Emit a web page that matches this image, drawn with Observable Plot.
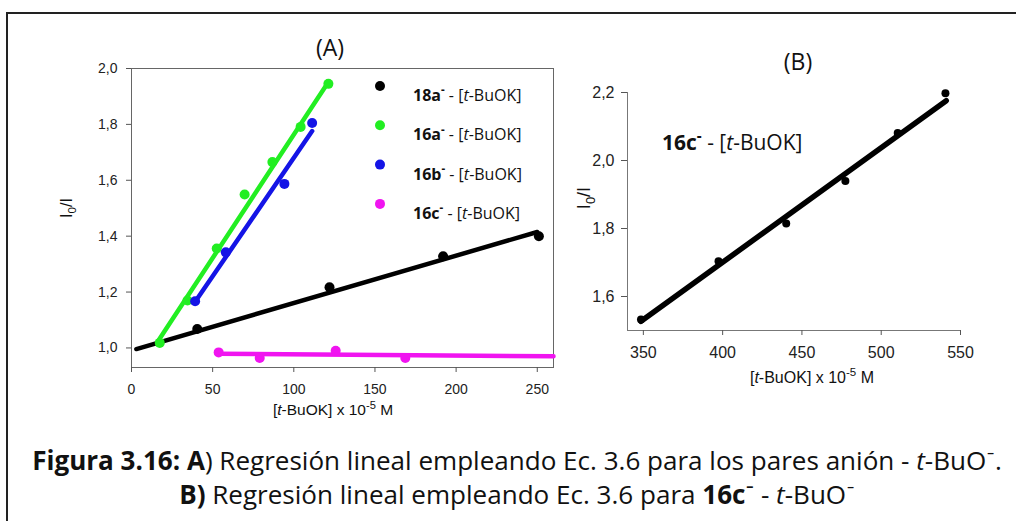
<!DOCTYPE html>
<html><head><meta charset="utf-8">
<script src="https://cdn.jsdelivr.net/npm/d3@7"></script>
<script src="https://cdn.jsdelivr.net/npm/@observablehq/plot@0.6"></script>
<style>
body{margin:0;background:#fff;}
#root{position:relative;width:1016px;height:521px;overflow:hidden;background:#fff;}
#border{position:absolute;left:6px;top:12px;width:1100px;height:600px;border-left:2px solid #222;border-top:2px solid #222;}
.panel{position:absolute;top:0;}
#overlay{position:absolute;left:0;top:0;pointer-events:none;}
</style></head><body><div id="root"><div id="border"></div></div>
<script>
// ---------- data ----------
const seriesA = ["18a", "16a", "16b", "16c"];
const x18a = [40.5, 122, 192, 251];
const y18a = [1.068, 1.217, 1.328, 1.400];
const fit18aX = [3, 250], fit18aY = [0.996, 1.415];
const x16a = [17.4, 34.5, 52.5, 69.7, 86.8, 104.2, 121.3];
const y16a = [1.018, 1.170, 1.356, 1.549, 1.665, 1.791, 1.945];
const fit16aX = [16.3, 121.3], fit16aY = [1.024, 1.952];
const x16b = [39.2, 58.1, 94.2, 111.3];
const y16b = [1.167, 1.342, 1.587, 1.805];
const fit16bX = [39.2, 111.3], fit16bY = [1.165, 1.776];
const x16c = [53.7, 79, 125.8, 168.7];
const y16c = [0.984, 0.964, 0.990, 0.964];
const fit16cX = [53.7, 260], fit16cY = [0.979, 0.970];

const xB = [348.5, 397.4, 440.1, 477.4, 510.4, 540.5];
const yB = [1.532, 1.704, 1.815, 1.940, 2.081, 2.198];
const fitBX = [348.5, 541], fitBY = [1.527, 2.176];

const xTicksA = [0, 50, 100, 150, 200, 250];
const yTicksA = [1.0, 1.2, 1.4, 1.6, 1.8, 2.0];
const xTicksB = [350, 400, 450, 500, 550];
const yTicksB = [1.6, 1.8, 2.0, 2.2];

const colorsA = ["#000000", "#22ee22", "#1414e6", "#f014f0"];

// ---------- build tables ----------
const ptsA = [], fitsA = [];
const raw = {"18a": [x18a, y18a, fit18aX, fit18aY], "16a": [x16a, y16a, fit16aX, fit16aY],
             "16b": [x16b, y16b, fit16bX, fit16bY], "16c": [x16c, y16c, fit16cX, fit16cY]};
for (const s of seriesA) {
  const [xs, ys, fx, fy] = raw[s];
  xs.forEach((x, i) => ptsA.push({s, x, y: ys[i]}));
  fx.forEach((x, i) => fitsA.push({s, x, y: fy[i]}));
}
const ptsB = xB.map((x, i) => ({x, y: yB[i]}));
const fitB = fitBX.map((x, i) => ({x, y: fitBY[i]}));
const fmt = d => d.toFixed(1).replace(".", ",");
const tickFont = "'Liberation Sans', Arial, sans-serif";

const plotA = Plot.plot({
  width: 560, height: 430,
  marginLeft: 131, marginRight: 7, marginTop: 68, marginBottom: 63,
  x: {domain: [0, 260]}, y: {domain: [0.93, 2.0]},
  color: {domain: seriesA, range: colorsA},
  style: {fontFamily: tickFont, fontSize: "14px", color: "#222", background: "transparent", overflow: "visible"},
  marks: [
    Plot.frame({stroke: "#666"}),
    Plot.axisX({ticks: xTicksA, tickSize: 5, tickPadding: 12, label: null, stroke: "#555", fill: "#222"}),
    Plot.axisY({ticks: yTicksA, tickSize: 5, tickPadding: 9, label: null, tickFormat: fmt, stroke: "#555", fill: "#222"}),
    Plot.line(fitsA, {x: "x", y: "y", z: "s", stroke: "s", strokeWidth: 4.5}),
    Plot.dot(ptsA, {x: "x", y: "y", fill: "s", r: 5})
  ]
});
plotA.classList.add("panel"); plotA.style.left = "0px";

const plotB = Plot.plot({
  width: 456, height: 430,
  marginLeft: 67, marginRight: 56, marginTop: 92, marginBottom: 100,
  x: {domain: [340, 550]}, y: {domain: [1.5, 2.2]},
  style: {fontFamily: tickFont, fontSize: "16px", color: "#222", background: "transparent", overflow: "visible"},
  marks: [
    Plot.ruleY([1.5], {stroke: "#777"}),
    Plot.ruleX([340], {stroke: "#777"}),
    Plot.axisX({ticks: xTicksB, tickSize: 5, tickPadding: 11, label: null, stroke: "#555", fill: "#222"}),
    Plot.axisY({ticks: yTicksB, tickSize: 6, tickPadding: 7, label: null, tickFormat: fmt, stroke: "#555", fill: "#222"}),
    Plot.line(fitB, {x: "x", y: "y", stroke: "#000", strokeWidth: 5.5}),
    Plot.dot(ptsB, {x: "x", y: "y", fill: "#000", r: 4})
  ]
});
plotB.classList.add("panel"); plotB.style.left = "560px";

const root = document.getElementById("root");
root.appendChild(plotA);
root.appendChild(plotB);

// ---------- overlay text ----------
const svg = d3.select(root).append("svg").attr("id", "overlay").attr("width", 1016).attr("height", 521);
const cal = "'Open Sans', Lato, sans-serif";

function rich(x, y, segs, {fs, family, anchor = "start", rotate = 0, fill = "#111"}) {
  const g = svg.append("g").attr("transform", `translate(${x},${y}) rotate(${rotate})`);
  const t = g.append("text").attr("font-family", family).attr("font-size", fs + "px")
    .attr("text-anchor", anchor).attr("fill", fill);
  let shift = 0;
  for (const s of segs) {
    const ts = t.append("tspan").text(s.t);
    const target = s.sup ? -0.42 * fs : s.sub ? 0.28 * fs : 0;
    if (target !== shift) { ts.attr("dy", (target - shift) + "px"); shift = target; }
    if (s.b) ts.attr("font-weight", "bold");
    if (s.i) ts.attr("font-style", "italic");
    if (s.sup || s.sub) ts.attr("font-size", (fs * 0.72) + "px");
  }
  return t;
}

const xLabel = [{t: "["}, {t: "t", i: true}, {t: "-BuOK] x 10"}, {t: "-5", sup: true}, {t: " M"}];
const yLabel = [{t: "I"}, {t: "0", sub: true}, {t: "/I"}];

rich(330, 56, [{t: "(A)"}], {fs: 23, family: cal, anchor: "middle"});
rich(798, 70, [{t: "(B)"}], {fs: 23, family: cal, anchor: "middle"});
rich(333, 415, xLabel, {fs: 15.5, family: tickFont, anchor: "middle"});
rich(812, 383, xLabel, {fs: 16, family: tickFont, anchor: "middle"});
rich(72, 208, yLabel, {fs: 16, family: tickFont, anchor: "middle", rotate: -90});
rich(590, 198, yLabel, {fs: 18, family: tickFont, anchor: "middle", rotate: -90});

// legend (panel A)
seriesA.forEach((s, i) => {
  const cy = 86 + i * 39.3;
  svg.append("circle").attr("cx", 380).attr("cy", cy).attr("r", 5).attr("fill", colorsA[i]);
  rich(413, cy + 15, [{t: s, b: true}, {t: "-", sup: true, b: true}, {t: "  - ["}, {t: "t", i: true}, {t: "-BuOK]"}],
       {fs: 16, family: cal});
});

// annotation (panel B)
rich(662, 150, [{t: "16c", b: true}, {t: "-", sup: true, b: true}, {t: "  - ["}, {t: "t", i: true}, {t: "-BuOK]"}],
     {fs: 21, family: cal});

// caption (fitted to the reference's line width)
const seg1 = [{t: "Figura 3.16: A", b: true}, {t: ") Regresión lineal empleando Ec. 3.6 para los pares anión - "},
              {t: "t", i: true}, {t: "-BuO⁻."}];
const seg2 = [{t: "B)", b: true}, {t: " Regresión lineal empleando Ec. 3.6 para "}, {t: "16c⁻", b: true},
              {t: " - "}, {t: "t", i: true}, {t: "-BuO⁻"}];
const probe = rich(517, 470, seg1, {fs: 24, family: cal, anchor: "middle"});
const capFs = 24 * 970 / probe.node().getComputedTextLength();
probe.node().parentNode.remove();
rich(517, 470, seg1, {fs: capFs, family: cal, anchor: "middle"});
rich(517, 504, seg2, {fs: capFs, family: cal, anchor: "middle"});
</script></body></html>
